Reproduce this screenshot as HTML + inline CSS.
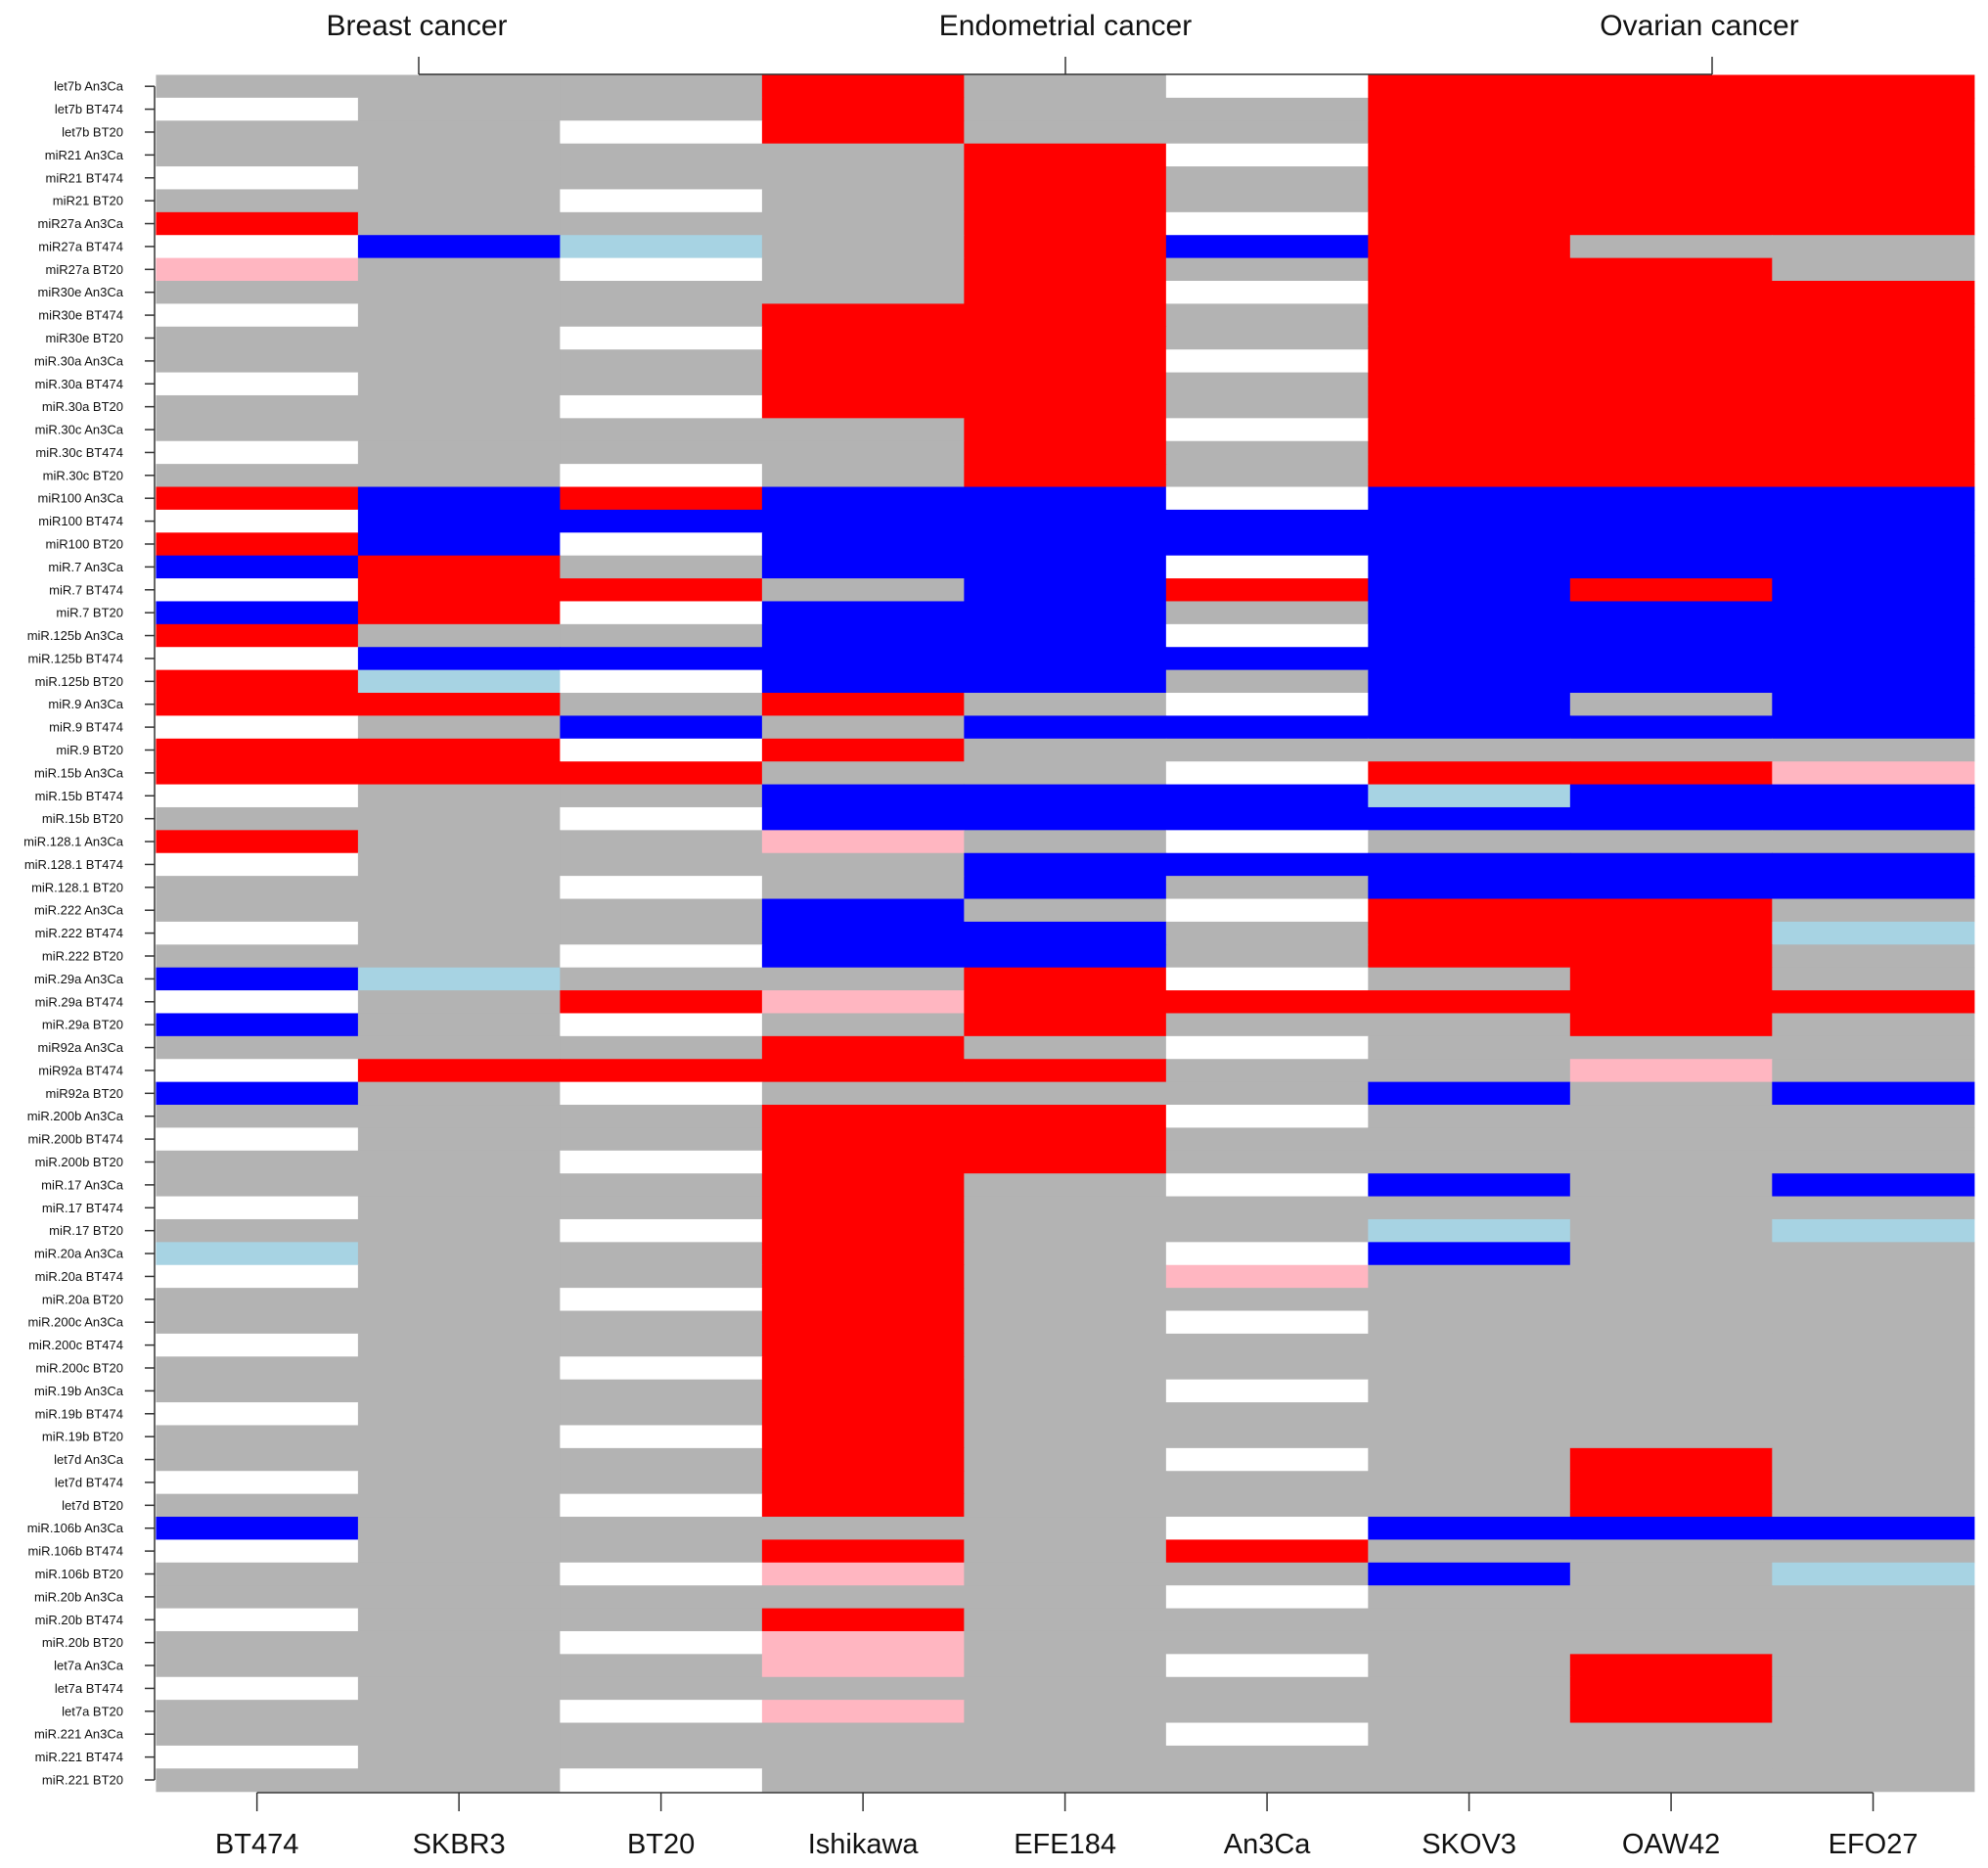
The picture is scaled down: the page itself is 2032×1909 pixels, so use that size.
<!DOCTYPE html>
<html><head><meta charset="utf-8"><style>
html,body{margin:0;padding:0;background:#fff;}
svg{display:block;font-family:"Liberation Sans",sans-serif;}
</style></head><body>
<svg id="chart" width="2032" height="1909" viewBox="0 0 2032 1909" xmlns="http://www.w3.org/2000/svg">
<g id="cells"></g>
<g id="yaxis"></g>
<g id="xaxis"></g>
<g id="groups"></g>
</svg>
<script>
const columns = ["BT474","SKBR3","BT20","Ishikawa","EFE184","An3Ca","SKOV3","OAW42","EFO27"];
const rowLabels = ["let7b An3Ca","let7b BT474","let7b BT20","miR21 An3Ca","miR21 BT474","miR21 BT20","miR27a An3Ca","miR27a BT474","miR27a BT20","miR30e An3Ca","miR30e BT474","miR30e BT20","miR.30a An3Ca","miR.30a BT474","miR.30a BT20","miR.30c An3Ca","miR.30c BT474","miR.30c BT20","miR100 An3Ca","miR100 BT474","miR100 BT20","miR.7 An3Ca","miR.7 BT474","miR.7 BT20","miR.125b An3Ca","miR.125b BT474","miR.125b BT20","miR.9 An3Ca","miR.9 BT474","miR.9 BT20","miR.15b An3Ca","miR.15b BT474","miR.15b BT20","miR.128.1 An3Ca","miR.128.1 BT474","miR.128.1 BT20","miR.222 An3Ca","miR.222 BT474","miR.222 BT20","miR.29a An3Ca","miR.29a BT474","miR.29a BT20","miR92a An3Ca","miR92a BT474","miR92a BT20","miR.200b An3Ca","miR.200b BT474","miR.200b BT20","miR.17 An3Ca","miR.17 BT474","miR.17 BT20","miR.20a An3Ca","miR.20a BT474","miR.20a BT20","miR.200c An3Ca","miR.200c BT474","miR.200c BT20","miR.19b An3Ca","miR.19b BT474","miR.19b BT20","let7d An3Ca","let7d BT474","let7d BT20","miR.106b An3Ca","miR.106b BT474","miR.106b BT20","miR.20b An3Ca","miR.20b BT474","miR.20b BT20","let7a An3Ca","let7a BT474","let7a BT20","miR.221 An3Ca","miR.221 BT474","miR.221 BT20"];
// status codes per row (columns in order above): g=no change, w=self, r=up, b=down, l=weak down, p=weak up
const cellStatus = [
"gggrgwrrr","wggrggrrr","ggwrggrrr","ggggrwrrr","wgggrgrrr","ggwgrgrrr","rgggrwrrr","wblgrbrgg","pgwgrgrrg",
"ggggrwrrr","wggrrgrrr","ggwrrgrrr","gggrrwrrr","wggrrgrrr","ggwrrgrrr","ggggrwrrr","wgggrgrrr","ggwgrgrrr",
"rbrbbwbbb","wbbbbbbbb","rbwbbbbbb","brgbbwbbb","wrrgbrbrb","brwbbgbbb","rggbbwbbb","wbbbbbbbb","rlwbbgbbb",
"rrgrgwbgb","wgbgbbbbb","rrwrggggg","rrrggwrrp","wggbbblbb","ggwbbbbbb","rggpgwggg","wgggbbbbb","ggwgbgbbb",
"gggbgwrrg","wggbbgrrl","ggwbbgrrg","blggrwgrg","wgrprrrrr","bgwgrggrg","gggrgwggg","wrrrrggpg","bgwgggbgb",
"gggrrwggg","wggrrgggg","ggwrrgggg","gggrgwbgb","wggrggggg","ggwrgglgl","lggrgwbgg","wggrgpggg","ggwrggggg",
"gggrgwggg","wggrggggg","ggwrggggg","gggrgwggg","wggrggggg","ggwrggggg","gggrgwgrg","wggrgggrg","ggwrgggrg",
"bggggwbbb","wggrgrggg","ggwpggbgl","gggggwggg","wggrggggg","ggwpggggg","gggpgwgrg","wggggggrg","ggwpgggrg",
"gggggwggg","wgggggggg","ggwgggggg"];
const groupNames = ["Breast cancer","Endometrial cancer","Ovarian cancer"];

const palette = {g:"#b3b3b3",w:"#ffffff",r:"#ff0000",b:"#0000ff",l:"#a7d3e3",p:"#ffb6c1"};
const X0=159.4, X1=2017.8, Y0=76.5, Y1=1830.7;
const cw=(X1-X0)/columns.length, rh=(Y1-Y0)/rowLabels.length;
const xPos = i => X0 + i*cw;
const yPos = j => Y0 + j*rh;
const NS="http://www.w3.org/2000/svg";
function mk(tag, attrs, parent){const e=document.createElementNS(NS,tag);for(const k in attrs)e.setAttribute(k,attrs[k]);parent.appendChild(e);return e;}

const cells=document.getElementById('cells');
rowLabels.forEach((lab,j)=>{
  columns.forEach((c,i)=>{
    const code=cellStatus[j][i];
    const r=mk('rect',{x:xPos(i),y:yPos(j),width:cw+0.6,height:rh+0.6,fill:palette[code]},cells);
    
    
  });
});

const ya=document.getElementById('yaxis');
const yl=mk('line',{x1:158,y1:yPos(0.5),x2:158,y2:yPos(rowLabels.length-0.5),stroke:"#333","stroke-width":1.5},ya);


rowLabels.forEach((lab,j)=>{
  const cy=yPos(j+0.5);
  const t=mk('line',{x1:148,y1:cy,x2:158,y2:cy,stroke:"#333","stroke-width":1.5},ya);
  
  
  const tx=mk('text',{x:126,y:cy+4.5,"text-anchor":"end","font-size":"13",fill:"#111"},ya);
  tx.textContent=lab;
  
  
});

const xa=document.getElementById('xaxis');
const xl=mk('line',{x1:xPos(0.5),y1:1832,x2:xPos(columns.length-0.5),y2:1832,stroke:"#333","stroke-width":1.5},xa);


columns.forEach((c,i)=>{
  const cx=xPos(i+0.5);
  const t=mk('line',{x1:cx,y1:1832,x2:cx,y2:1851,stroke:"#333","stroke-width":1.5},xa);
  
  
  const tx=mk('text',{x:cx,y:1894,"text-anchor":"middle","font-size":"29",fill:"#111"},xa);
  tx.textContent=c;
  
  
});

const gg=document.getElementById('groups');
const bl=mk('line',{x1:428,y1:76,x2:1750,y2:76,stroke:"#333","stroke-width":1.5},gg);


[428,1089,1750].forEach(x=>{
  const t=mk('line',{x1:x,y1:58,x2:x,y2:76,stroke:"#333","stroke-width":1.5},gg);
  
  
});
[426,1089,1737].forEach((x,k)=>{
  const tx=mk('text',{x:x,y:36,"text-anchor":"middle","font-size":"30",fill:"#111"},gg);
  tx.textContent=groupNames[k];
  
  
});
</script>
</body></html>
